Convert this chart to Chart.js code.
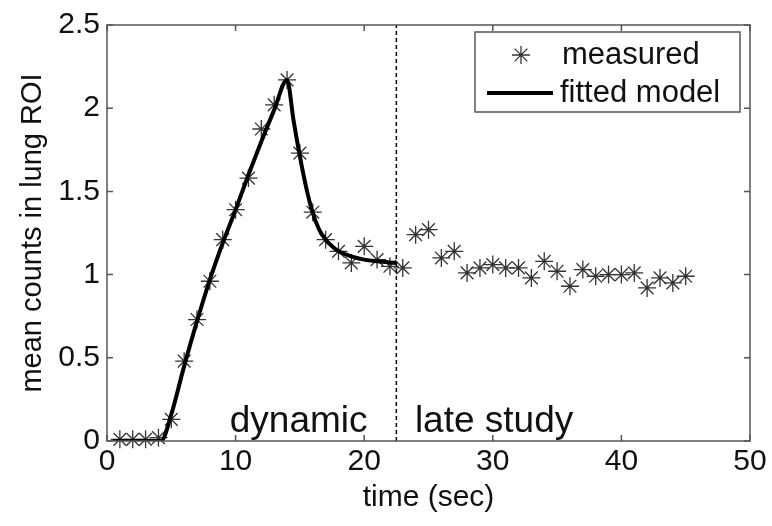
<!DOCTYPE html>
<html><head><meta charset="utf-8">
<script src="https://cdn.jsdelivr.net/npm/chart.js@4/dist/chart.umd.min.js"></script>
<style>html,body{margin:0;padding:0;background:#fff}#wrap{width:772px;height:526px}</style>
</head><body><div id="wrap"><canvas id="c" width="772" height="526"></canvas></div>
<script>
const timeSec = [1,2,3,4,5,6,7,8,9,10,11,12,13,14,15,16,17,18,19,20,21,22,23,24,25,26,27,28,29,30,31,32,33,34,35,36,37,38,39,40,41,42,43,44,45];
const measuredCounts = [0.01,0.01,0.01,0.02,0.13,0.48,0.73,0.96,1.21,1.39,1.58,1.875,2.02,2.17,1.73,1.375,1.21,1.14,1.07,1.17,1.09,1.05,1.04,1.24,1.27,1.10,1.14,1.01,1.04,1.06,1.04,1.04,0.98,1.08,1.02,0.93,1.03,0.99,1.00,1.00,1.01,0.92,0.98,0.95,0.99];
const fitTime = [0.5,4.2,5,6,7,8,9,10,11,12,13,14,14.5,15,15.5,16,16.5,17,17.5,18,19,20,21,22.5];
const fitCounts = [0,0,0.16,0.45,0.72,0.97,1.19,1.39,1.60,1.80,1.99,2.17,1.93,1.71,1.52,1.37,1.27,1.21,1.17,1.14,1.11,1.09,1.08,1.07];
const xTicks = [0,10,20,30,40,50];
const yTicks = [0,0.5,1,1.5,2,2.5];
const boundaryTime = 22.5;
const phaseLabels = ['dynamic','late study'];
const phaseLabelTime = [14.9, 30.1];
const phaseLabelCount = 0.055;
const seriesNames = ['measured','fitted model'];
const xTitle = 'time (sec)';
const yTitle = 'mean counts in lung ROI';

const FONT = 'Liberation Sans, Arial, sans-serif';
const INK = '#111';
const AXIS = '#555';
const STAR = '#333';

const boxPlugin = {
  id: 'matlabBox',
  afterDatasetsDraw(chart) {
    const {ctx, chartArea: a, scales: {x, y}} = chart;
    ctx.save();
    ctx.strokeStyle = AXIS;
    ctx.lineWidth = 1.5;
    ctx.strokeRect(a.left, a.top, a.right - a.left, a.bottom - a.top);
    const tl = 6;
    ctx.beginPath();
    xTicks.forEach(v => {
      const px = x.getPixelForValue(v);
      ctx.moveTo(px, a.bottom); ctx.lineTo(px, a.bottom - tl);
      ctx.moveTo(px, a.top); ctx.lineTo(px, a.top + tl);
    });
    yTicks.forEach(v => {
      const py = y.getPixelForValue(v);
      ctx.moveTo(a.left, py); ctx.lineTo(a.left + tl, py);
      ctx.moveTo(a.right, py); ctx.lineTo(a.right - tl, py);
    });
    ctx.stroke();
    ctx.fillStyle = INK;
    ctx.font = '37px ' + FONT;
    ctx.textAlign = 'center';
    ctx.textBaseline = 'alphabetic';
    phaseLabels.forEach((t, i) => {
      ctx.fillText(t, x.getPixelForValue(phaseLabelTime[i]), y.getPixelForValue(phaseLabelCount));
    });
    ctx.restore();
  },
  afterDraw(chart) {
    const {ctx} = chart;
    ctx.save();
    const L = 475, T = 32, W = 265, H = 80;
    ctx.fillStyle = '#fff';
    ctx.fillRect(L, T, W, H);
    ctx.strokeStyle = AXIS;
    ctx.lineWidth = 1.5;
    ctx.strokeRect(L, T, W, H);
    const ds = chart.data.datasets;
    ctx.strokeStyle = ds[0].borderColor;
    ctx.lineWidth = 1.3;
    Chart.helpers.drawPoint(ctx, {pointStyle: 'star', radius: 9, borderWidth: 1.3}, 521, 55);
    ctx.strokeStyle = ds[1].borderColor;
    ctx.lineWidth = ds[1].borderWidth;
    ctx.beginPath(); ctx.moveTo(487, 93); ctx.lineTo(553, 93); ctx.stroke();
    ctx.fillStyle = INK;
    ctx.font = '31px ' + FONT;
    ctx.textAlign = 'left';
    ctx.textBaseline = 'middle';
    ctx.fillText(ds[0].label, 562, 55);
    ctx.fillText(ds[1].label, 560, 93);
    ctx.restore();
  }
};

new Chart(document.getElementById('c'), {
  type: 'scatter',
  data: {
    datasets: [
      {
        label: seriesNames[0],
        data: timeSec.map((t, i) => ({x: t, y: measuredCounts[i]})),
        showLine: false,
        pointStyle: 'star',
        pointRadius: 9,
        pointBorderWidth: 1.3,
        borderColor: STAR,
        backgroundColor: STAR,
        clip: false,
        order: 2
      },
      {
        label: seriesNames[1],
        data: fitTime.map((t, i) => ({x: t, y: fitCounts[i]})),
        showLine: true,
        borderColor: '#000',
        borderWidth: 4,
        pointRadius: 0,
        cubicInterpolationMode: 'monotone',
        order: 1
      },
      {
        label: 'boundary',
        data: [{x: boundaryTime, y: 0}, {x: boundaryTime, y: 2.5}],
        showLine: true,
        borderColor: '#000',
        borderWidth: 1.5,
        borderDash: [4, 3],
        pointRadius: 0,
        order: 0
      }
    ]
  },
  options: {
    responsive: false,
    animation: false,
    devicePixelRatio: 1,
    layout: {padding: {top: 20, right: 22, left: 0, bottom: 0}},
    plugins: {legend: {display: false}, tooltip: {enabled: false}},
    scales: {
      x: {
        type: 'linear', min: 0, max: 50,
        afterBuildTicks: s => { s.ticks = xTicks.map(v => ({value: v})); },
        afterFit: s => { s.height = 85; },
        grid: {display: false, drawTicks: false},
        border: {display: false},
        ticks: {color: INK, font: {family: FONT, size: 30}, padding: 3, maxRotation: 0, callback: v => String(v)},
        title: {display: true, text: xTitle, color: INK, font: {family: FONT, size: 30}, padding: {top: 0, bottom: 10}}
      },
      y: {
        type: 'linear', min: 0, max: 2.5,
        afterBuildTicks: s => { s.ticks = yTicks.map(v => ({value: v})); },
        afterFit: s => { s.width = 107; },
        grid: {display: false, drawTicks: false},
        border: {display: false},
        ticks: {color: INK, font: {family: FONT, size: 30}, padding: 7, callback: v => String(v)},
        title: {display: true, text: yTitle, color: INK, font: {family: FONT, size: 29}, padding: {top: 16, bottom: 0}}
      }
    }
  },
  plugins: [boxPlugin]
});
</script>
</body></html>
